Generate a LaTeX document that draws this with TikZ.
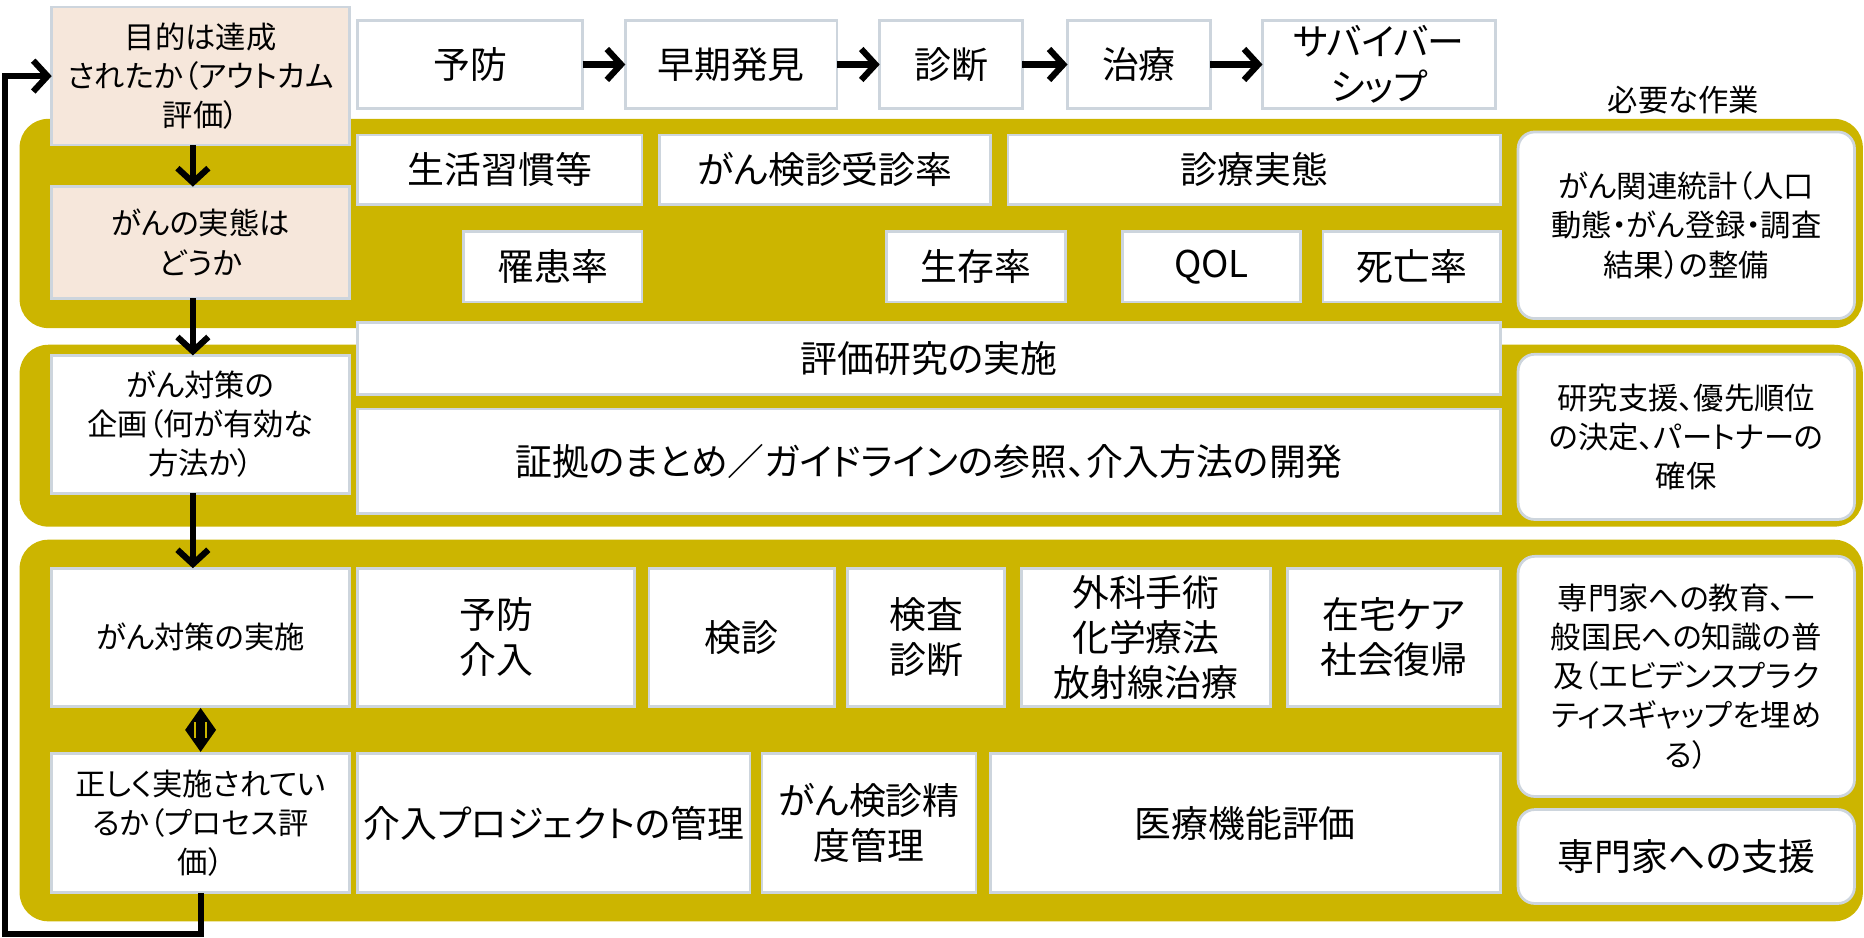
\documentclass[tikz,border=0pt]{standalone}
\usepackage{fontspec}
\setmainfont{Noto Sans CJK JP}[RawFeature=+palt]
\usetikzlibrary{arrows.meta,calc}
\definecolor{bandc}{RGB}{204,181,0}
\definecolor{peach}{RGB}{246,231,219}
\definecolor{bord}{RGB}{205,213,221}
\newcommand\bxat[6]{\node[#1, minimum width={#4-#2}, minimum height={#5-#3}] (#6) at ({(#2+#4)/2},{(#3+#5)/2})}
\begin{document}
\begin{tikzpicture}[x=1pt,y=-1pt,
 bx/.style={draw=bord, line width=2.3pt, fill=white, inner sep=0pt, outer sep=0pt, align=center, text=black},
 pk/.style={bx, fill=peach},
 rb/.style={bx, rounded corners=14pt},
 big/.style={font=\fontsize{31}{38}\selectfont},
 sml/.style={font=\fontsize{25.5}{33}\selectfont},
 arr/.style={line width=5.2pt, -{Straight Barb[length=12pt,width=26pt]}},
 band/.style={fill=bandc, rounded corners=24pt}]
\useasboundingbox (0,0) rectangle (1568,789);
% bands
\fill[band] (16.5,100) rectangle (1567,276);
\fill[band] (16.5,290) rectangle (1567,443);
\fill[band] (16.5,454) rectangle (1567,775);
% left column
\bxat{pk,sml}{43.5}{6}{294}{122}{out}{目的は達成\\されたか（アウトカム\\評価）};
\bxat{pk,sml}{43.5}{157}{294}{251}{state}{がんの実態は\\どうか};
\bxat{bx,sml}{43.5}{299}{294}{415}{plan}{がん対策の\\企画（何が有効な\\方法か）};
\bxat{bx,sml}{43.5}{478}{294}{594}{impl}{がん対策の実施};
\bxat{bx,sml}{43.5}{634}{294}{751}{proc}{正しく実施されてい\\るか（プロセス評\\価）};
% top row
\bxat{bx,big}{301}{17.5}{490}{91}{prev}{予防};
\bxat{bx,big}{526}{17.5}{704}{91}{early}{早期発見};
\bxat{bx,big}{740}{17.5}{860}{91}{diag}{診断};
\bxat{bx,big}{898}{17.5}{1018}{91}{treat}{治療};
\bxat{bx,big}{1062}{17.5}{1258}{91}{surv}{サバイバー\\シップ};
\node[sml] (hdr) at (1416,84) {必要な作業};
% band 1
\bxat{bx,big}{301}{113.5}{540}{172}{life}{生活習慣等};
\bxat{bx,big}{555}{113.5}{833}{172}{scr}{がん検診受診率};
\bxat{bx,big}{848}{113.5}{1262}{172}{care}{診療実態};
\bxat{bx,big}{390}{195}{540}{254}{inc}{罹患率};
\bxat{bx,big}{746}{195}{896}{254}{srate}{生存率};
\bxat{bx,big}{944}{195}{1094}{254}{qol}{QOL};
\bxat{bx,big}{1113}{195}{1262}{254}{mort}{死亡率};
\bxat{rb,sml}{1277}{111}{1560}{268}{r1}{がん関連統計（人口\\動態・がん登録・調査\\結果）の整備};
% band 2
\bxat{bx,big}{301}{271}{1262}{332}{evr}{評価研究の実施};
\bxat{bx,big}{301}{344}{1262}{432}{evid}{証拠のまとめ／ガイドラインの参照、介入方法の開発};
\bxat{rb,sml}{1277}{298}{1560}{437}{r2}{研究支援、優先順位\\の決定、パートナーの\\確保};
% band 3
\bxat{bx,big}{301}{478}{534}{594}{pi}{予防\\介入};
\bxat{bx,big}{546}{478}{702}{594}{ck}{検診};
\bxat{bx,big}{713}{478}{845}{594}{ex}{検査\\診断};
\bxat{bx,big}{859}{478}{1069}{594}{tr}{外科手術\\化学療法\\放射線治療};
\bxat{bx,big}{1083}{478}{1262}{594}{hc}{在宅ケア\\社会復帰};
\bxat{bx,big}{301}{634}{631}{751}{pm}{介入プロジェクトの管理};
\bxat{bx,big}{641}{634}{821}{751}{qc}{がん検診精\\度管理};
\bxat{bx,big}{833}{634}{1262}{751}{fe}{医療機能評価};
\bxat{rb,sml}{1277}{468}{1560}{670}{r3}{専門家への教育、一\\般国民への知識の普\\及（エビデンスプラク\\ティスギャップを埋め\\る）};
\bxat{rb,big}{1277}{681}{1560}{760}{r4}{専門家への支援};
% arrows
\draw[arr] (prev.east) -- (early.west);
\draw[arr] (early.east) -- (diag.west);
\draw[arr] (diag.east) -- (treat.west);
\draw[arr] (treat.east) -- (surv.west);
\draw[arr] ([xshift=-6.5pt]out.south) -- ([xshift=-6.5pt]state.north);
\draw[arr] ([xshift=-6.5pt]state.south) -- ([xshift=-6.5pt]plan.north);
\draw[arr] ([xshift=-6.5pt]plan.south) -- ([xshift=-6.5pt]impl.north);
% double-headed link (diamond) between implementation and process evaluation
\coordinate (dm) at ($(impl.south)!0.5!(proc.north)$);
\fill[black] ([yshift=-1.5pt]impl.south) -- ($(dm)+(13,0)$) -- ([yshift=1.5pt]proc.north) -- ($(dm)+(-13,0)$) -- cycle;
\draw[bandc, line width=1.8pt] ($(dm)+(-4.5,-6.5)$) -- ($(dm)+(-4.5,6.5)$);
\draw[bandc, line width=1.8pt] ($(dm)+(4.5,-6.5)$) -- ($(dm)+(4.5,6.5)$);
\coordinate (fb) at (4,785.5);
\draw[arr] (proc.south) |- (fb) |- (out.west);
\end{tikzpicture}
\end{document}
